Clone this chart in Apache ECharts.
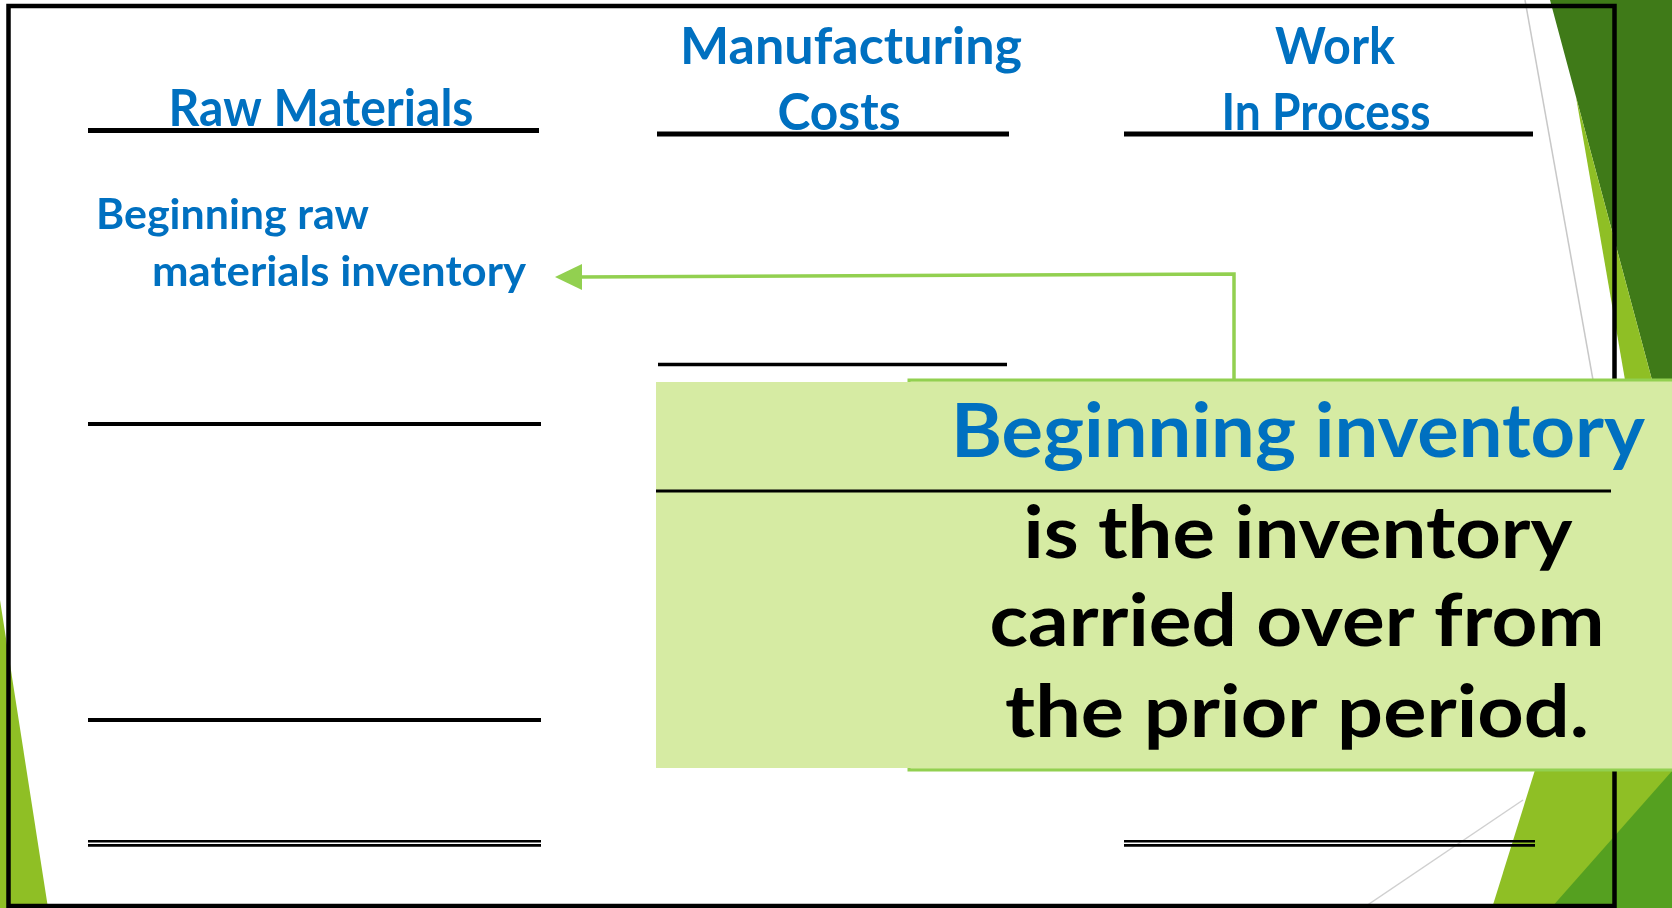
<!DOCTYPE html>
<html>
<head>
<meta charset="utf-8">
<script src="https://cdn.jsdelivr.net/npm/echarts@6/dist/echarts.min.js"></script>
<style>
html,body{margin:0;padding:0;background:#fff;}
#main{width:1672px;height:908px;}
</style>
</head>
<body>
<div id="main"></div>
<script>
// ---- content ----
const headers = ['Raw Materials', 'Manufacturing', 'Costs', 'Work', 'In Process'];
const noteLines = ['Beginning raw', 'materials inventory'];
const term = 'Beginning inventory';
const definition = ['is the inventory', 'carried over from', 'the prior period.'];

// ---- styling helpers ----
const BLUE = '#0070c0';
const GREEN = '#92d050';
const FILL = '#d6eba3';
const measure = document.createElement('canvas').getContext('2d');
function fitScale(text, font, w) {
  measure.font = font;
  return w / measure.measureText(text).width;
}
function txt(text, x, y, size, color, align, targetW) {
  const font = 'bold ' + size + 'px Lato';
  return {
    type: 'text', x: x, y: y, z: 50,
    scaleX: fitScale(text, font, targetW), scaleY: 1,
    style: {
      text: text, x: 0, y: 0, font: font, fill: color,
      textAlign: align, textVerticalAlign: 'middle', align: align, verticalAlign: 'middle'
    }
  };
}
function hline(x1, x2, y, w, color, z) {
  return { type: 'line', z: z || 10, shape: { x1: x1, y1: y, x2: x2, y2: y }, style: { stroke: color || '#000', lineWidth: w } };
}
function poly(points, color, z) {
  return { type: 'polygon', z: z || 1, shape: { points: points }, style: { fill: color } };
}

const els = [];
// decorative facets
els.push(poly([[1550, 0], [1672, 0], [1672, 908], [1652, 380]], '#3f7a18', 1));
els.push(poly([[1576, 97], [1652, 380], [1625, 380]], '#8fbf25', 2));
els.push(poly([[1535, 770], [1672, 770], [1672, 908], [1492, 908]], '#8fbf25', 2));
els.push(poly([[1672, 771], [1672, 908], [1551, 908]], '#55a020', 3));
els.push(poly([[0, 600], [48, 908], [0, 908]], '#8fbf25', 2));
els.push({ type: 'line', z: 4, shape: { x1: 1525, y1: 0, x2: 1593, y2: 380 }, style: { stroke: '#c8c8c8', lineWidth: 1.5 } });
els.push({ type: 'line', z: 4, shape: { x1: 1523, y1: 800, x2: 1363, y2: 908 }, style: { stroke: '#d0d0d0', lineWidth: 1.5 } });

// frame
els.push({ type: 'rect', z: 8, shape: { x: 8.5, y: 6, width: 1606, height: 900 }, style: { fill: null, stroke: '#000', lineWidth: 4.5 } });

// ledger lines
els.push(hline(88, 539, 130.5, 5));
els.push(hline(657, 1009, 134, 5));
els.push(hline(1124, 1533, 134, 5));
els.push(hline(658, 1007, 364.5, 3.5));
els.push(hline(88, 541, 424, 4));
els.push(hline(88, 541, 720, 4));
els.push(hline(88, 541, 841.3, 2.6));
els.push(hline(88, 541, 845.4, 2.6));
els.push(hline(1124, 1535, 841.3, 2.6));
els.push(hline(1124, 1535, 845.4, 2.6));

// connector arrow
els.push({ type: 'polyline', z: 12, shape: { points: [[1234, 380], [1234, 274], [578, 277]] }, style: { stroke: GREEN, lineWidth: 3.5, fill: null } });
els.push(poly([[555, 277], [582, 264], [582, 290]], GREEN, 12));

// callout box
els.push({ type: 'rect', z: 20, shape: { x: 909, y: 380, width: 800, height: 390 }, style: { fill: FILL, stroke: GREEN, lineWidth: 3 } });
els.push({ type: 'rect', z: 21, shape: { x: 656, y: 382, width: 1016, height: 386 }, style: { fill: FILL } });
els.push(hline(656, 1611, 491, 3, '#000', 22));

// texts
els.push(txt(headers[0], 321, 109, 52, BLUE, 'center', 305));
els.push(txt(headers[1], 851, 47, 52, BLUE, 'center', 342));
els.push(txt(headers[2], 839, 113, 52, BLUE, 'center', 123));
els.push(txt(headers[3], 1335, 47, 52, BLUE, 'center', 120));
els.push(txt(headers[4], 1326, 113, 52, BLUE, 'center', 209));
els.push(txt(noteLines[0], 96, 215, 42, BLUE, 'left', 273));
els.push(txt(noteLines[1], 152, 272, 42, BLUE, 'left', 374));
els.push(txt(term, 1298, 433, 75, BLUE, 'center', 694));
els.push(txt(definition[0], 1298, 535, 72, '#000', 'center', 549));
els.push(txt(definition[1], 1297, 623, 72, '#000', 'center', 615));
els.push(txt(definition[2], 1297, 714, 72, '#000', 'center', 584));

const chart = echarts.init(document.getElementById('main'), null, { renderer: 'canvas' });
chart.setOption({
  backgroundColor: '#fff',
  animation: false,
  graphic: { elements: els }
});
</script>
</body>
</html>
